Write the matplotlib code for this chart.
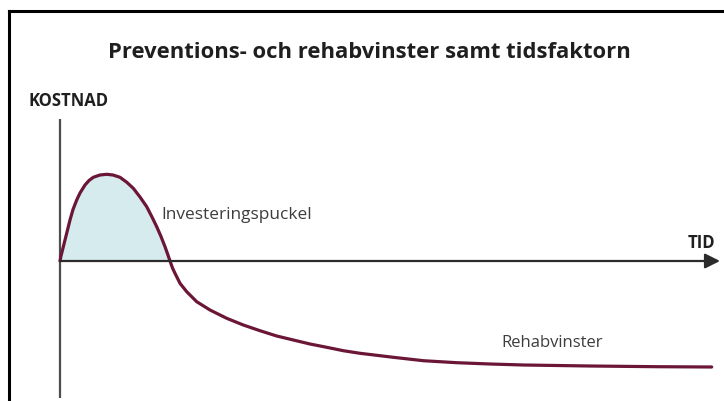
import numpy as np
import matplotlib
matplotlib.use("Agg")
import matplotlib.pyplot as plt

plt.rcParams['font.family'] = ['Open Sans', 'DejaVu Sans']

# curve: time vs cost (0 = the time axis)
tid = [0, 1, 2.5, 5, 7.5, 10, 13, 16.7, 20, 25, 29, 33.3, 40, 46.7, 53, 60, 66.7,
       73.3, 80, 86.7, 92, 96.7, 101, 105, 107.5, 110,
       112.5, 115, 120, 126.7, 136.7, 150, 166.7, 183.3, 200, 216.7, 233.3, 250,
       266.7, 283.3, 300, 316.7, 333.3, 363.3, 396.7, 430, 463.3, 530, 596.7, 651.7]
kostnad = [0, 5, 11, 21, 31, 41, 51.5, 61, 68, 76, 80.5, 83.7, 86, 86.7, 86, 83.7, 78.8,
           72.7, 64, 54.3, 44, 34.3, 24.5, 14.3, 7.3, 0,
           -7, -12.3, -22.3, -30.7, -40.7, -49, -57.3, -64, -69.7, -75, -79, -83,
           -86.3, -89.7, -92.3, -94.3, -96.3, -99.7, -101.7, -103, -104, -105, -105.7, -106]

title = "Preventions- och rehabvinster samt tidsfaktorn"
y_label = "KOSTNAD"
x_label = "TID"
hump_label = "Investeringspuckel"
gain_label = "Rehabvinster"

fig = plt.figure(figsize=(7.24, 4.01), dpi=100)
ax = fig.add_axes([0, 0, 1, 1])
ax.set_xlim(-60, 664)
ax.set_ylim(-140, 261)
ax.axis('off')

# outer frame (top and left edge only)
fig.add_artist(plt.Line2D([9 / 724, 1], [1 - 11 / 401, 1 - 11 / 401], color='black', lw=2.2))
fig.add_artist(plt.Line2D([9 / 724, 9 / 724], [0, 1 - 11 / 401], color='black', lw=2.2))

axis_col = '#4d4d4d'
ax.plot([0, 0], [-137, 142], color=axis_col, lw=1.6, solid_capstyle='butt')
ax.annotate('', xy=(660, 0), xytext=(0, 0),
            arrowprops=dict(arrowstyle='-|>,head_length=0.9,head_width=0.45',
                            color='#2b2b2b', lw=1.6, shrinkA=0, shrinkB=0))

t = np.array(tid)
k = np.array(kostnad)
hump = t <= 110
ax.fill_between(t[hump], k[hump], 0, color='#d5ebee', lw=0)
ax.plot(t, k, color='#6b1637', lw=2.3, solid_capstyle='round', solid_joinstyle='round')

ax.text(309, 209, title, fontsize=15.8, fontweight='bold', color='#1f1f1f',
        ha='center', va='center')
ax.text(-32, 160, y_label, fontsize=12, fontweight='bold', color='#1f1f1f',
        ha='left', va='center')
ax.text(655, 18, x_label, fontsize=12, fontweight='bold', color='#1f1f1f',
        ha='right', va='center')
ax.text(101, 46, hump_label, fontsize=12.4, color='#3d3d3d', ha='left', va='center')
ax.text(441, -82, gain_label, fontsize=12, color='#3d3d3d', ha='left', va='center')

fig.savefig('out.png', dpi=100)
